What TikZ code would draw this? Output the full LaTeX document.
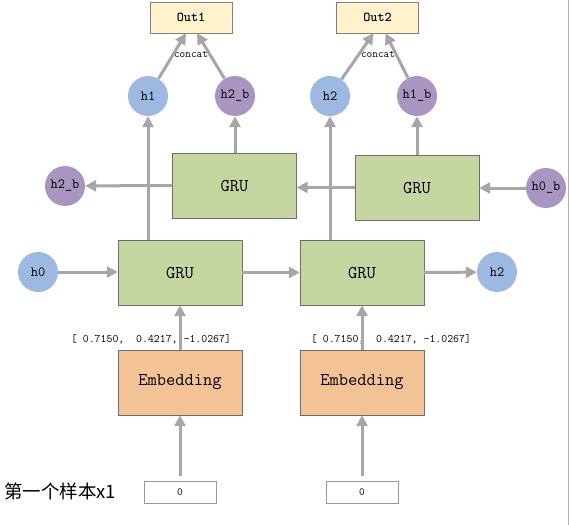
\documentclass[tikz,border=0pt]{standalone}
\usepackage{fontspec}
\newfontfamily\cjkfont{Noto Sans CJK SC}
\usetikzlibrary{arrows.meta}
\usetikzlibrary{positioning}

\definecolor{gruGreen}{HTML}{C5D6A0}
\definecolor{embOrange}{HTML}{F3C396}
\definecolor{outYellow}{HTML}{FFF2CC}
\definecolor{hBlue}{HTML}{9DB9E1}
\definecolor{hPurple}{HTML}{A896C0}
\definecolor{arrowGray}{HTML}{A6A6A6}
\definecolor{boxBorder}{HTML}{6E6E6E}

\tikzset{
  arr/.style={draw=arrowGray, line width=3pt, -{Triangle[length=11pt,width=11pt]}},
  gru/.style={draw=boxBorder, fill=gruGreen, minimum width=124pt, minimum height=65pt,
    font=\fontsize{18}{20}\selectfont\ttfamily},
  emb/.style={gru, fill=embOrange},
  outbox/.style={draw=gray, fill=outYellow, minimum width=82pt, minimum height=31pt,
    font=\fontsize{13.5}{15}\selectfont\ttfamily\bfseries},
  hfwd/.style={circle, fill=hBlue, minimum size=40pt, inner sep=0pt,
    font=\fontsize{14}{16}\selectfont\ttfamily},
  hbwd/.style={hfwd, fill=hPurple},
  inbox/.style={draw=gray!80, minimum width=72pt, minimum height=22pt,
    font=\fontsize{11}{12}\selectfont\ttfamily},
  small/.style={font=\fontsize{11.5}{13}\selectfont\ttfamily}
}

\begin{document}
\begin{tikzpicture}[x=1pt, y=-1pt]
    \useasboundingbox (0,0) rectangle (569,525);
    \draw[gray!60, line width=0.8pt] (568,0) -- (568,525);

    % outputs
    \node[outbox] (out1) at (191,17.5) {Out1};
    \node[outbox] (out2) at (377.5,17.5) {Out2};
    \node[font=\fontsize{11}{12}\selectfont\ttfamily] (cat1) at (191,54) {concat};
    \node[font=\fontsize{11}{12}\selectfont\ttfamily] (cat2) at (378,54) {concat};

    % hidden states on top
    \node[hfwd] (h1) at (148,96) {h1};
    \node[hbwd] (h2b) at (235,96) {h2\_b};
    \node[hfwd] (h2) at (330,96) {h2};
    \node[hbwd] (h1b) at (417,96) {h1\_b};

    % backward layer
    \node[gru] (gruB1) at (234.5,185.5) {GRU};
    \node[gru] (gruB2) at (417,187.5) {GRU};
    \node[hbwd] (h2bL) at (65,186) {h2\_b};
    \node[hbwd] (h0b) at (546,188) {h0\_b};

    % forward layer
    \node[gru] (gruF1) at (180,272.5) {GRU};
    \node[gru] (gruF2) at (362,272.5) {GRU};
    \node[hfwd] (h0) at (38,272) {h0};
    \node[hfwd] (h2R) at (497,272) {h2};

    % embedding and inputs
    \node[small] (vec1) at (151,339) {[ 0.7150,\ \ 0.4217, -1.0267]};
    \node[small] (vec2) at (391,339) {[ 0.7150,\ \ 0.4217, -1.0267]};
    \node[emb] (emb1) at (180,382.5) {Embedding};
    \node[emb] (emb2) at (362,382.5) {Embedding};
    \node[inbox] (in1) at (180,492) {0};
    \node[inbox] (in2) at (362,492) {0};
    \node[anchor=west, inner sep=0pt, font=\fontsize{18.5}{20}\selectfont\cjkfont] (sample) at (4,491) {第一个样本x1};

    % connectors
    \draw[arr, shorten <=5pt] (in1.north) -- (emb1.south);
    \draw[arr, shorten <=5pt] (in2.north) -- (emb2.south);
    \draw[arr] (emb1.north) -- (gruF1.south);
    \draw[arr] (emb2.north) -- (gruF2.south);
    \draw[arr] (h0) -- (h0 -| gruF1.west);
    \draw[arr] (gruF1.east) -- (gruF2.west);
    \draw[arr] (gruF2.east) -- (h2R);
    \draw[arr] (h0b) -- (h0b -| gruB2.east);
    \draw[arr] (gruB2.west) -- (gruB2.west -| gruB1.east);
    \draw[arr] (gruB1.west) -- (h2bL);
    \draw[arr] (gruF1.north -| h1) -- (h1);
    \draw[arr] (gruF2.north -| h2) -- (h2);
    \draw[arr] (gruB1.north -| h2b) -- (h2b);
    \draw[arr] (gruB2.north -| h1b) -- (h1b);
    \draw[arr] (h1) -- ([xshift=-5pt]out1.south);
    \draw[arr] (h2b) -- ([xshift=6pt]out1.south);
    \draw[arr] (h2) -- ([xshift=-4pt]out2.south);
    \draw[arr] (h1b) -- ([xshift=8pt]out2.south);
\end{tikzpicture}
\end{document}
